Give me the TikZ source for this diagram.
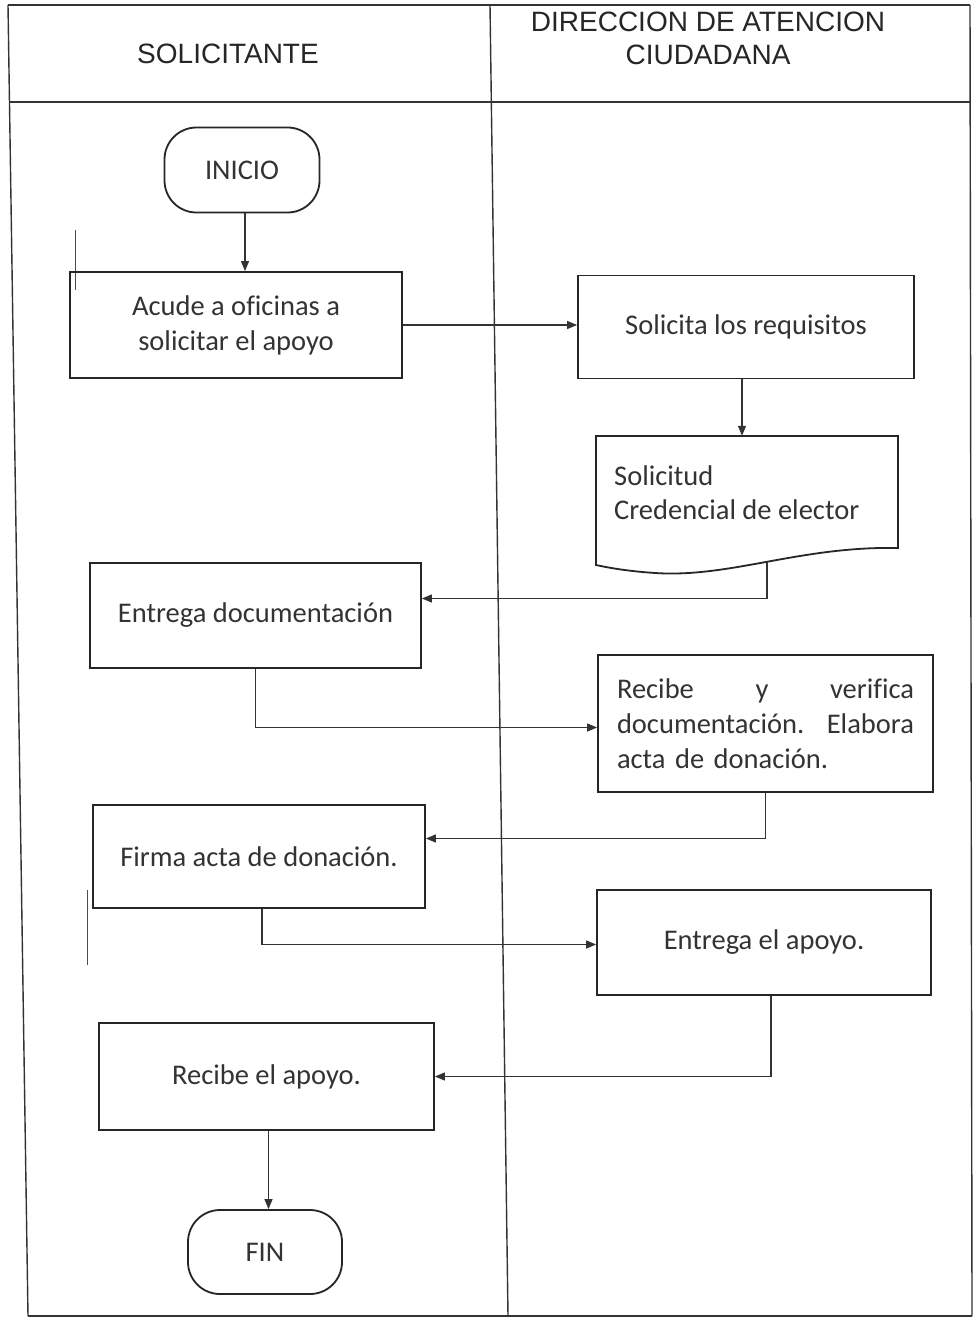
\documentclass[tikz,border=0pt]{standalone}
\usepackage{fontspec}
\setmainfont{Carlito}[Ligatures=NoCommon]
\newfontfamily\hdrfont{Liberation Sans}
\usetikzlibrary{arrows.meta}
\begin{document}
\begin{tikzpicture}[x=1pt,y=-1pt,
  frame/.style={draw=black!80, line width=1.4pt},
  box/.style={draw=black!85, line width=1.8pt, inner sep=0pt, align=center,
    font=\fontsize{28.5}{35}\selectfont, text=black!80},
  term/.style={box, rounded corners=32pt},
  hdr/.style={font=\hdrfont\fontsize{28}{33}\selectfont, text=black!85, align=center, inner sep=0pt},
  arr/.style={draw=black!80, line width=1.2pt, -{Triangle[length=10pt,width=8pt]}},
  stray/.style={draw=black!70, line width=0.9pt}]
\useasboundingbox (0,0) rectangle (974,1321);
\fill[white] (0,0) rectangle (974,1321);
% frame
\draw[frame] (8,5) -- (970,5);
\draw[frame] (10,102) -- (971,102);
\draw[frame] (8,5) -- (28,1316);
\draw[frame] (970,5) -- (972,1316);
\draw[frame] (28,1316) -- (972,1316);
\draw[frame] (490,5) -- (508,1316);
% stray scan marks
\draw[stray] (75,230) -- (75,290);
\draw[stray] (87,890) -- (87,965);
% headers
\node[hdr] (h1) at (228,54) {SOLICITANTE};
\node[hdr] (h2) at (708,38) {DIRECCION DE ATENCION\\CIUDADANA};
% nodes
\node[term, minimum width=155pt, minimum height=85pt] (inicio) at (242,170) {INICIO};
\node[box, minimum width=332pt, minimum height=106pt] (acude) at (236,325) {Acude a oficinas a\\solicitar el apoyo};
\node[box, minimum width=336pt, minimum height=103pt] (solic) at (746,327) {Solicita los requisitos};
% document shape
\draw[draw=black!85, line width=1.8pt] (596,436) -- (898,436) -- (898,548)
  .. controls (800,546) and (730,578) .. (655,573)
  .. controls (625,571) and (605,567) .. (596,565) -- cycle;
\node[inner sep=0pt, minimum width=302pt, minimum height=130pt] (doc) at (747,501) {};
\node[anchor=west, align=left, inner sep=0pt, font=\fontsize{28.5}{34}\selectfont, text=black!80] (doctxt) at (614,493) {Solicitud\\Credencial de elector};
\coordinate (docb) at (767,562);
\node[box, minimum width=331pt, minimum height=105pt] (entrega) at (255.5,615.5) {Entrega documentación};
\node[box, minimum width=335pt, minimum height=137pt, text width=297pt, align=left] (recibe) at (765.5,723.5) {Recibe\hfill y\hfill verifica\\documentación.\hfill Elabora\\acta de donación.};
\node[box, minimum width=332pt, minimum height=103pt] (firma) at (259,856.5) {Firma acta de donación.};
\node[box, minimum width=334pt, minimum height=105pt] (apoyo) at (764,942.5) {Entrega el apoyo.};
\node[box, minimum width=335pt, minimum height=107pt] (recap) at (266.5,1076.5) {Recibe el apoyo.};
\node[term, minimum width=154pt, minimum height=84pt] (fin) at (265,1252) {FIN};
% connectors
\draw[arr] ([xshift=3pt]inicio.south) -- ([xshift=3pt]inicio.south |- acude.north);
\draw[arr] (acude.east) -- (acude.east -| solic.west);
\draw[arr] ([xshift=-4pt]solic.south) -- ([xshift=-4pt]solic.south |- doc.north);
\draw[arr] (docb) |- ([yshift=17pt]entrega.east);
\draw[arr] (entrega.south) |- ([yshift=-4pt]recibe.west);
\draw[arr] (recibe.south) |- ([yshift=18pt]firma.east);
\draw[arr] ([xshift=3pt]firma.south) |- ([yshift=-2pt]apoyo.west);
\draw[arr] ([xshift=7pt]apoyo.south) |- (recap.east);
\draw[arr] ([xshift=2pt]recap.south) -- ([xshift=2pt]recap.south |- fin.north);
\end{tikzpicture}
\end{document}
